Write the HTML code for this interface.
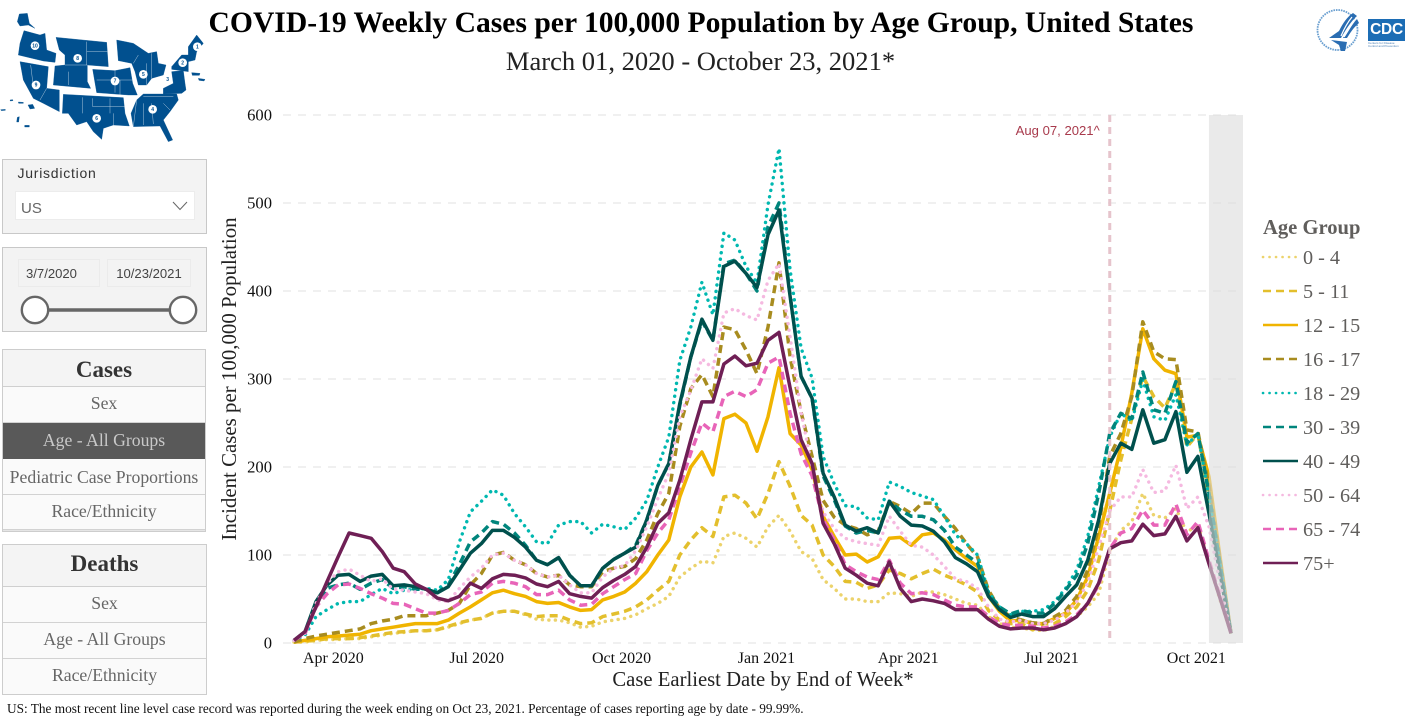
<!DOCTYPE html>
<html lang="en">
<head>
<meta charset="utf-8">
<title>COVID-19 Weekly Cases per 100,000 Population by Age Group</title>
<style>
html,body{margin:0;padding:0;background:#fff;}
body{width:1419px;height:711px;overflow:hidden;position:relative;font-family:"Liberation Serif",serif;}
.abs{position:absolute;box-sizing:border-box;}
.panel{background:#f3f3f3;border:1.5px solid #c8c8c8;}
.row{position:absolute;left:0;right:0;text-align:center;font-size:17.7px;color:#666;background:#fafafa;border-bottom:1.5px solid #d2d2d2;box-sizing:border-box;}
.head{position:absolute;left:0;right:0;top:0;text-align:center;font-weight:bold;font-size:23px;color:#333;background:#f4f4f4;border-bottom:1.5px solid #cfcfcf;box-sizing:border-box;}
.sans{font-family:"Liberation Sans",sans-serif;}
</style>
</head>
<body>

<div class="abs" style="left:0;width:1402px;top:5px;text-align:center;font-size:29.6px;font-weight:bold;color:#000;line-height:36px;white-space:nowrap;">COVID-19 Weekly Cases per 100,000 Population by Age Group, United States</div>
<div class="abs" style="left:0;width:1401px;top:44px;text-align:center;font-size:26.55px;color:#222;line-height:34px;white-space:nowrap;">March 01, 2020 - October 23, 2021*</div>

<!-- HHS map -->
<svg class="abs" style="left:0;top:0;" width="240" height="150" viewBox="0 0 720 450">
  <g fill="#01508f" stroke="#01508f" stroke-width="1">
    <polygon points="58,42 82,40 88,70 105,85 85,75 60,78 52,65"/>
    <polygon points="72,92 120,105 135,100 140,150 168,160 165,187 130,183 55,165 60,130"/>
    <polygon points="168,112 320,127 325,200 262,195 262,245 272,265 160,255 165,198 195,195 195,165 178,150"/>
    <polygon points="278,208 345,212 390,203 398,250 412,285 385,285 290,278"/>
    <polygon points="350,120 400,130 445,160 470,155 475,190 498,195 490,225 455,235 440,255 415,255 405,215 395,190 355,182"/>
    <polygon points="60,185 145,200 140,265 178,270 178,335 130,310 100,295 70,240"/>
    <polygon points="190,283 370,293 375,340 388,378 340,375 310,385 305,418 280,395 260,365 230,375 205,340 187,340"/>
    <polygon points="430,282 530,282 535,300 510,335 490,360 518,420 505,425 480,378 400,380 393,340 410,300"/>
    <polygon points="490,265 520,250 515,215 550,212 555,250 558,270 545,280 490,282"/>
    <polygon points="515,200 545,165 565,165 565,215 515,208"/>
    <polygon points="565,140 590,105 610,130 590,155 585,180 565,185"/>
    <polygon points="575,218 600,220 598,226 577,226"/>
    <polygon points="595,235 615,238 612,243 597,241"/>
    <polygon points="84,315 98,313 104,325 90,327"/>
    <polygon points="30,300 38,299 39,302 31,303"/>
    <polygon points="55,306 70,307 70,310 56,310"/>
    <polygon points="52,352 58,350 56,366 50,366"/>
    <polygon points="74,376 88,376 88,381 74,381"/>
    <polygon points="2,329 16,328 16,331 4,332"/>
  </g>
  <g stroke="#d6e2ec" stroke-width="1.2" fill="none">
    <path d="M260,125V195M260,155H322M195,195H262M205,215V255M92,195L100,260M140,265L120,300M248,292V340M278,295V320H375M330,295V340M340,340V375M290,240H398M345,212V278M360,240V285M400,190L415,165M440,190V255M455,160V235M410,300L400,380M430,310V375M455,310L460,372M490,310L510,330M430,290H520"/>
  </g>
  <g fill="#fff">
    <circle cx="105" cy="137" r="13"/>
    <circle cx="233" cy="175" r="13"/>
    <circle cx="108" cy="255" r="13"/>
    <circle cx="345" cy="243" r="13"/>
    <circle cx="290" cy="355" r="13"/>
    <circle cx="430" cy="223" r="13"/>
    <circle cx="458" cy="328" r="13"/>
    <circle cx="503" cy="238" r="13"/>
    <circle cx="548" cy="188" r="13"/>
    <circle cx="592" cy="140" r="13"/>
  </g>
  <g fill="#01508f" font-family="Liberation Sans, sans-serif" font-weight="bold" font-size="15" text-anchor="middle">
    <text x="105" y="142">10</text>
    <text x="233" y="180">8</text>
    <text x="108" y="260">9</text>
    <text x="345" y="248">7</text>
    <text x="290" y="360">6</text>
    <text x="430" y="228">5</text>
    <text x="458" y="333">4</text>
    <text x="503" y="243">3</text>
    <text x="548" y="193">2</text>
    <text x="592" y="145">1</text>
  </g>
</svg>

<!-- Jurisdiction slicer -->
<div class="abs panel" style="left:2px;top:159px;width:205px;height:75px;">
  <div class="abs sans" style="left:14.5px;top:5px;font-size:14px;letter-spacing:.75px;color:#333;line-height:16px;">Jurisdiction</div>
  <div class="abs sans" style="left:12px;top:31px;width:180px;height:29px;background:#fff;border:1px solid #ececec;font-size:15px;color:#666;line-height:33px;padding-left:5px;">US
    <svg class="abs" style="right:6px;top:9px;" width="16" height="10" viewBox="0 0 16 10"><path d="M1,1L8,8.5L15,1" fill="none" stroke="#666" stroke-width="1"/></svg>
  </div>
</div>

<!-- Date slicer -->
<div class="abs panel" style="left:2px;top:247px;width:205px;height:85px;">
  <div class="abs sans" style="left:15px;top:11px;width:82px;height:28px;border:1px solid #ebebeb;font-size:13.1px;color:#444;line-height:28px;text-align:left;padding-left:7px;">3/7/2020</div>
  <div class="abs sans" style="left:104px;top:11px;width:84px;height:28px;border:1px solid #ebebeb;font-size:13.1px;color:#444;line-height:28px;text-align:center;">10/23/2021</div>
  <svg class="abs" style="left:-1.5px;top:-1.5px;" width="207" height="85" viewBox="2 247 207 85">
    <line x1="35" y1="310" x2="183" y2="310" stroke="#666" stroke-width="3.5"/>
    <circle cx="35" cy="310" r="13.2" fill="#fff" stroke="#666" stroke-width="2.4"/>
    <circle cx="183" cy="310" r="13.2" fill="#fff" stroke="#666" stroke-width="2.4"/>
  </svg>
</div>

<!-- Cases navigation -->
<div class="abs" style="left:2px;top:349px;width:204px;height:183px;background:#e5e5e5;border:1.5px solid #cdcdcd;">
  <div class="head" style="height:37px;line-height:40px;">Cases</div>
  <div class="row" style="top:37px;height:36px;line-height:32px;">Sex</div>
  <div class="row" style="top:73px;height:36px;line-height:34px;background:#595959;color:#c9c9c9;border-bottom:0;">Age - All Groups</div>
  <div class="row" style="top:109px;height:36px;line-height:37px;">Pediatric Case Proportions</div>
  <div class="row" style="top:145px;height:35px;line-height:33px;">Race/Ethnicity</div>
</div>

<!-- Deaths navigation -->
<div class="abs" style="left:2px;top:544px;width:205px;height:151px;background:#fafafa;border:1.5px solid #cdcdcd;">
  <div class="head" style="height:42px;line-height:37px;">Deaths</div>
  <div class="row" style="top:42px;height:36px;line-height:32px;">Sex</div>
  <div class="row" style="top:78px;height:36px;line-height:32px;">Age - All Groups</div>
  <div class="row" style="top:114px;height:35px;line-height:32px;border-bottom:0;">Race/Ethnicity</div>
</div>

<div class="abs" style="left:7px;top:701px;font-size:13.3px;color:#111;line-height:15px;white-space:nowrap;">US: The most recent line level case record was reported during the week ending on Oct 23, 2021. Percentage of cases reporting age by date - 99.99%.</div>

<!-- Logos -->
<svg class="abs" style="left:1315px;top:7px;" width="48" height="48" viewBox="0 0 48 48">
  <circle cx="22.5" cy="23" r="20" fill="none" stroke="#6a9fd0" stroke-width="1.8" stroke-dasharray="1.6 .9"/>
  <path d="M38,6 C32,10 28,16 24,24 L14,31 L26,31 C30,24 36,14 42,9Z M42,12 C36,18 32,24 28,31 L32,31 C35,26 39,20 44,16Z M16,33 L32,35 L30,44 L26,44 L24,38Z" fill="#2a6db2"/>
  <path d="M37,10 C32,16 29,22 26,29 M41,12 C36,18 33,24 29,30" stroke="#fff" stroke-width="1.2" fill="none"/>
</svg>
<div class="abs" style="left:1368px;top:19px;width:37px;height:22px;background:#1c6db5;color:#fff;font-family:'Liberation Sans',sans-serif;font-weight:bold;font-size:15.5px;line-height:22px;text-align:center;letter-spacing:-.3px;">CDC</div>
<div class="abs" style="left:1368px;top:42px;width:37px;height:6px;font-family:'Liberation Sans',sans-serif;font-size:3px;line-height:3px;color:#4a7fb5;overflow:hidden;white-space:nowrap;">Centers for Disease<br>Control and Prevention</div>

<!-- Chart -->
<svg id="chart" class="abs" style="left:0;top:0;pointer-events:none;" width="1419" height="711" viewBox="0 0 1419 711"></svg>

<script>
// ---------- Chart data ----------
const weekEnding = [
"2020-03-07","2020-03-14","2020-03-21","2020-03-28","2020-04-04","2020-04-11","2020-04-18","2020-04-25",
"2020-05-02","2020-05-09","2020-05-16","2020-05-23","2020-05-30","2020-06-06","2020-06-13","2020-06-20","2020-06-27",
"2020-07-04","2020-07-11","2020-07-18","2020-07-25","2020-08-01","2020-08-08","2020-08-15","2020-08-22","2020-08-29",
"2020-09-05","2020-09-12","2020-09-19","2020-09-26","2020-10-03","2020-10-10","2020-10-17","2020-10-24","2020-10-31",
"2020-11-07","2020-11-14","2020-11-21","2020-11-28","2020-12-05","2020-12-12","2020-12-19","2020-12-26",
"2021-01-02","2021-01-09","2021-01-16","2021-01-23","2021-01-30","2021-02-06","2021-02-13","2021-02-20","2021-02-27",
"2021-03-06","2021-03-13","2021-03-20","2021-03-27","2021-04-03","2021-04-10","2021-04-17","2021-04-24",
"2021-05-01","2021-05-08","2021-05-15","2021-05-22","2021-05-29","2021-06-05","2021-06-12","2021-06-19","2021-06-26",
"2021-07-03","2021-07-10","2021-07-17","2021-07-24","2021-07-31","2021-08-07","2021-08-14","2021-08-21","2021-08-28",
"2021-09-04","2021-09-11","2021-09-18","2021-09-25","2021-10-02","2021-10-09","2021-10-16","2021-10-23"];

const age0to4 = [1,1,3,4,4,5,5,7,9,11,12,14,14,15,18,22,26,28,34,36,36,32,27,26,26,23,18,19,24,26,28,32,
39,45,53,75,85,93,91,121,125,119,109,132,145,127,104,96,72,62,50,50,47,47,
57,56,53,58,58,55,50,45,43,30,22,18,17,15,14,19,22,30,41,56,
105,128,138,170,145,142,153,125,136,90,49,11];
const age5to11 = [1,2,3,5,5,5,6,8,10,12,13,14,14,15,19,23,26,28,34,36,36,33,30,31,31,26,22,23,30,33,36,41,
49,60,70,100,117,131,121,166,168,159,141,170,206,178,145,134,100,87,70,69,62,66,
83,79,73,79,84,77,72,66,58,37,26,22,22,15,22,22,30,41,60,94,
150,208,255,303,280,267,295,223,238,166,90,11];
const age12to15 = [1,3,5,7,8,9,10,14,16,18,20,22,22,22,26,34,41,49,57,60,56,53,47,45,46,41,37,38,49,53,58,68,
81,100,117,166,200,217,191,255,260,250,218,257,313,238,225,197,144,121,100,101,92,98,
119,120,111,123,125,117,106,96,87,53,36,25,26,22,22,28,34,49,75,121,
170,222,284,357,323,310,306,234,236,189,98,11];
const age16to17 = [1,5,8,10,12,14,16,22,25,27,31,31,31,34,37,45,66,79,100,103,94,89,79,75,77,66,64,64,81,85,87,96,
117,147,170,246,289,305,280,359,356,333,306,359,432,325,262,212,162,143,134,130,123,127,
161,155,147,159,159,144,130,113,98,60,39,30,26,23,22,30,37,53,83,132,
212,238,280,365,331,323,322,242,240,178,94,11];
const age18to29 = [3,9,30,38,45,47,47,55,62,56,60,61,62,60,72,115,149,161,174,168,147,132,115,113,134,138,138,125,135,132,129,142,
162,200,234,321,359,410,373,466,458,428,409,498,562,424,335,301,212,181,156,155,142,140,
183,178,171,167,163,144,123,113,100,58,41,32,36,36,38,47,62,83,121,178,
234,261,252,299,257,253,282,225,238,166,90,11];
const age30to39 = [3,11,45,62,66,68,61,68,72,62,64,61,61,57,66,89,115,125,138,135,125,111,94,89,97,77,65,65,85,95,102,111,
140,179,204,270,325,366,344,431,435,420,400,473,500,395,303,278,190,163,133,125,128,125,
161,151,144,144,140,128,109,100,91,56,41,33,37,34,34,45,60,77,113,170,
238,261,255,308,265,261,297,227,238,170,90,11];
const age40to49 = [3,13,47,66,77,78,70,76,78,65,66,64,61,57,64,83,102,113,128,128,120,109,94,89,97,77,65,65,85,95,102,109,
140,179,204,272,325,368,344,428,434,420,404,464,492,394,303,278,193,166,134,127,131,125,
161,144,134,133,127,115,97,90,81,53,38,29,33,30,30,39,53,66,94,140,
204,227,220,265,227,231,263,194,212,147,79,11];
const age50to64 = [3,11,45,68,81,84,77,70,73,61,60,58,56,49,47,62,75,85,100,102,94,89,79,75,77,66,57,57,75,85,88,105,
132,164,193,257,287,323,312,375,380,372,367,412,431,348,262,200,149,130,119,115,113,111,
144,127,111,109,100,87,73,70,62,41,27,24,26,22,22,26,34,47,68,109,
150,166,166,197,171,173,202,153,166,132,68,11];
const age65to74 = [3,11,41,56,66,67,62,56,51,45,44,39,34,34,37,45,55,58,68,70,68,64,55,55,60,49,43,44,56,64,72,79,
105,125,140,178,216,250,240,280,286,280,288,318,325,261,215,190,140,117,89,81,75,72,
94,68,56,57,55,49,43,41,41,30,22,20,20,19,17,19,24,32,45,66,
107,125,130,151,134,134,158,123,138,94,53,11];
const age75plus = [3,13,41,70,98,125,122,119,104,85,81,67,61,51,48,53,68,62,73,78,77,74,67,64,70,56,53,51,63,71,78,87,
109,136,148,185,231,274,274,317,326,315,318,344,353,290,231,204,136,113,85,77,68,65,
92,62,47,50,48,45,38,38,38,27,19,16,17,17,15,17,22,30,45,68,
107,114,116,135,122,124,144,116,131,90,51,11];

const yTickValues = [0,100,200,300,400,500,600];
const xTickDates = ["2020-04-01","2020-07-01","2020-10-01","2021-01-01","2021-04-01","2021-07-01","2021-10-01"];
const xTickLabels = ["Apr 2020","Jul 2020","Oct 2020","Jan 2021","Apr 2021","Jul 2021","Oct 2021"];
const seriesLabels = ["0 - 4","5 - 11","12 - 15","16 - 17","18 - 29","30 - 39","40 - 49","50 - 64","65 - 74","75+"];
const seriesValues = [age0to4,age5to11,age12to15,age16to17,age18to29,age30to39,age40to49,age50to64,age65to74,age75plus];
const referenceDate = "2021-08-07";
const referenceLabel = "Aug 07, 2021^";
const incompleteFrom = "2021-10-09";

// ---------- Styles and layout ----------
const seriesColors = ["#ecd36c","#e3bf2d","#f0b400","#a88c1f","#00b8b0","#00857c","#00504d","#f5b9e0","#e864b8","#6f1f55"];
const seriesStyles = ["dot","dash","solid","dash","dot","dash","solid","dot","dash","solid"];
const plotLeft = 283, plotRight = 1243, plotTop = 115, plotBottom = 643;
const firstX = 294, lastX = 1231;
const yMax = 600;

const svg = document.getElementById('chart');
const NS = 'http://www.w3.org/2000/svg';
function mk(tag, parent) {
  const e = document.createElementNS(NS, tag);
  (parent || svg).appendChild(e);
  return e;
}
function t(d) { return new Date(d + 'T00:00:00Z').getTime(); }
function xScale(d) {
  return firstX + (t(d) - t(weekEnding[0])) / (t(weekEnding[weekEnding.length - 1]) - t(weekEnding[0])) * (lastX - firstX);
}
function yScale(v) { return plotBottom - v / yMax * (plotBottom - plotTop); }
function applyStroke(el, style, color) {
  el.setAttribute('fill', 'none');
  el.setAttribute('stroke', color);
  el.setAttribute('stroke-linejoin', 'round');
  if (style === 'dot') {
    el.setAttribute('stroke-width', '3.4');
    el.setAttribute('stroke-dasharray', '0.1 6.4');
    el.setAttribute('stroke-linecap', 'round');
  } else if (style === 'dash') {
    el.setAttribute('stroke-width', '3.5');
    el.setAttribute('stroke-dasharray', '8 5');
  } else {
    el.setAttribute('stroke-width', '3.5');
  }
}

// gridlines and y ticks
yTickValues.forEach(function (v) {
  const g = mk('line');
  
  
  g.setAttribute('x1', plotLeft);
  g.setAttribute('x2', plotRight);
  g.setAttribute('y1', yScale(v));
  g.setAttribute('y2', yScale(v));
  g.setAttribute('stroke', '#ececec');
  g.setAttribute('stroke-width', '1.5');
  g.setAttribute('stroke-dasharray', '8 7');
  const l = mk('text');
  
  
  l.setAttribute('x', 272);
  l.setAttribute('y', yScale(v) + 5.5);
  l.setAttribute('text-anchor', 'end');
  l.setAttribute('font-size', '16.6');
  l.setAttribute('fill', '#111');
  l.textContent = v;
});

// x ticks
xTickDates.forEach(function (d, i) {
  const l = mk('text');
  
  
  l.setAttribute('x', xScale(d));
  l.setAttribute('y', 663);
  l.setAttribute('text-anchor', 'middle');
  l.setAttribute('font-size', '16');
  l.setAttribute('fill', '#111');
  l.textContent = xTickLabels[i];
});

// axis titles
const yTitle = mk('text');


yTitle.setAttribute('transform', 'translate(236,379) rotate(-90)');
yTitle.setAttribute('text-anchor', 'middle');
yTitle.setAttribute('font-size', '20.9');
yTitle.setAttribute('fill', '#222');
yTitle.textContent = 'Incident Cases per 100,000 Population';
const xTitle = mk('text');


xTitle.setAttribute('x', 763);
xTitle.setAttribute('y', 686);
xTitle.setAttribute('text-anchor', 'middle');
xTitle.setAttribute('font-size', '20.7');
xTitle.setAttribute('fill', '#222');
xTitle.textContent = 'Case Earliest Date by End of Week*';

// series lines
seriesValues.forEach(function (vals, s) {
  const p = mk('polyline');
  
  
  p.setAttribute('points', vals.map(function (v, i) {
    return xScale(weekEnding[i]).toFixed(1) + ',' + yScale(v).toFixed(1);
  }).join(' '));
  applyStroke(p, seriesStyles[s], seriesColors[s]);
});

// incomplete-data band, over the lines
const band = mk('rect');


band.setAttribute('x', xScale(incompleteFrom));
band.setAttribute('y', plotTop);
band.setAttribute('width', plotRight - xScale(incompleteFrom));
band.setAttribute('height', plotBottom - plotTop);
band.setAttribute('fill', '#dcdcdc');
band.setAttribute('fill-opacity', '0.6');

// reference line
const ref = mk('line');


ref.setAttribute('x1', xScale(referenceDate));
ref.setAttribute('x2', xScale(referenceDate));
ref.setAttribute('y1', plotTop);
ref.setAttribute('y2', plotBottom);
ref.setAttribute('stroke', '#e6c4cc');
ref.setAttribute('stroke-width', '3');
ref.setAttribute('stroke-dasharray', '7 5');
const refLabel = mk('text');


refLabel.setAttribute('x', xScale(referenceDate) - 10);
refLabel.setAttribute('y', 135);
refLabel.setAttribute('text-anchor', 'end');
refLabel.setAttribute('font-family', 'Liberation Sans, sans-serif');
refLabel.setAttribute('font-size', '13.1');
refLabel.setAttribute('fill', '#a83a4c');
refLabel.textContent = referenceLabel;

// legend
const legendTitle = mk('text');


legendTitle.setAttribute('x', 1263);
legendTitle.setAttribute('y', 234);
legendTitle.setAttribute('font-size', '20.6');
legendTitle.setAttribute('font-weight', 'bold');
legendTitle.setAttribute('fill', '#605e5c');
legendTitle.textContent = 'Age Group';
seriesLabels.forEach(function (lab, s) {
  const rowY = 257 + s * 34;
  const g = mk('g');
  
  
  const ln = mk('line', g);
  
  
  ln.setAttribute('x1', 1263);
  ln.setAttribute('x2', 1298);
  ln.setAttribute('y1', rowY);
  ln.setAttribute('y2', rowY);
  applyStroke(ln, seriesStyles[s], seriesColors[s]);
  ln.setAttribute('stroke-width', '2.6');
  const tx = mk('text', g);
  
  
  tx.setAttribute('x', 1303);
  tx.setAttribute('y', rowY + 7);
  tx.setAttribute('font-size', '20.2');
  tx.setAttribute('fill', '#605e5c');
  tx.textContent = lab;
});
</script>
</body>
</html>
